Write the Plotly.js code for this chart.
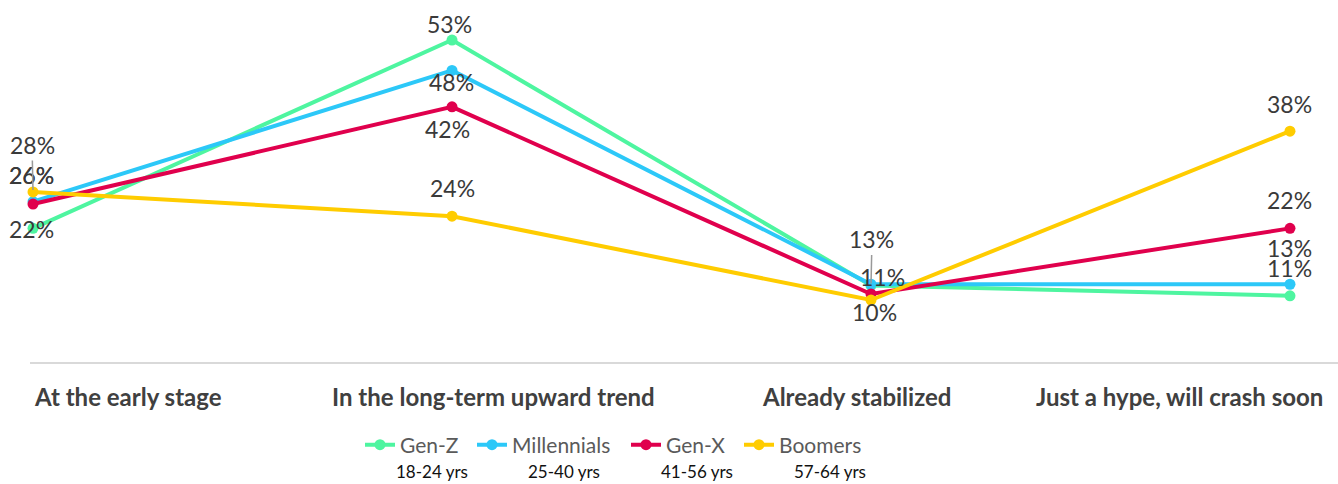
<!DOCTYPE html>
<html>
<head>
<meta charset="utf-8">
<script src="https://cdn.plot.ly/plotly-3.0.1.min.js"></script>
<style>html,body{margin:0;padding:0;background:#fff;}#chart{width:1338px;height:484px;}</style>
</head>
<body>
<div id="chart"></div>
<script>
// ---- data ----
const categories = ["At the early stage", "In the long-term upward trend", "Already stabilized", "Just a hype, will crash soon"];
const seriesNames = ["Gen-Z", "Millennials", "Gen-X", "Boomers"];
const ageRanges = ["18-24 yrs", "25-40 yrs", "41-56 yrs", "57-64 yrs"];
const genZ = [22, 53, 12.6, 10.9];
const millennials = [26.4, 48, 12.8, 12.8];
const genX = [26.0, 42, 11.2, 22];
const boomers = [28, 24, 10.2, 38];

// ---- styling ----
const colors = ["#4ef5a0", "#2cc8f8", "#e0004d", "#ffcc00"];
const FONT = "Lato, 'Source Sans Pro', sans-serif";
// label offsets in px (dx, dy; dy positive = up), leader flags, hidden (overlapped) labels
const labelDX = [[-2, -3, 1, 0], [-2, -1, 1, 0], [-2, -5, 12, 0], [-1, 0, 4, 0]];
const labelDY = [[-1, 16, 46, 28], [27, -12, 46, 36], [29, -22, 17, 28], [47, 28, -12, 27]];
const leader = [[false, false, true, false], [false, false, true, false], [false, false, false, false], [true, false, false, false]];
const hidden = [[false, false, false, false], [false, false, true, false], [false, false, false, false], [false, false, false, false]];

const allSeries = [genZ, millennials, genX, boomers];
const legendIds = ["legend", "legend2", "legend3", "legend4"];

const PLOT_L = 30, PLOT_W = 1308, PLOT_B = 362, PLOT_H = 342;
const px = x => (x - PLOT_L) / PLOT_W;
const py = y => (PLOT_B - y) / PLOT_H;

const traces = allSeries.map((vals, i) => ({
  type: "scatter",
  mode: "lines+markers",
  name: seriesNames[i],
  x: categories,
  y: vals,
  line: {color: colors[i], width: 4},
  marker: {color: colors[i], size: 11},
  cliponaxis: false,
  hoverinfo: "skip",
  legend: legendIds[i]
}));

const annotations = [];
allSeries.forEach((vals, i) => {
  vals.forEach((v, j) => {
    if (hidden[i][j]) return;
    const a = {
      x: categories[j], y: v, xref: "x", yref: "y",
      text: Math.round(v) + "%",
      font: {family: FONT, size: 23, color: "#3a3a3a"},
      xanchor: "center", yanchor: "middle"
    };
    if (leader[i][j]) {
      a.showarrow = true; a.arrowhead = 0; a.arrowwidth = 1.5; a.arrowcolor = "#999";
      a.ax = labelDX[i][j]; a.ay = -labelDY[i][j]; a.standoff = 2;
    } else {
      a.showarrow = false; a.xshift = labelDX[i][j]; a.yshift = labelDY[i][j];
    }
    annotations.push(a);
  });
});

// category labels
const catPos = [[32, "left"], [493, "center"], [856, "center"], [1325, "right"]];
categories.forEach((c, j) => {
  annotations.push({
    xref: "paper", yref: "paper", x: px(catPos[j][0]), y: py(396),
    xanchor: catPos[j][1], yanchor: "middle", showarrow: false,
    text: "<b>" + c + "</b>",
    font: {family: FONT, size: 24, color: "#404040"}
  });
});

// age range subtitles
const agePos = [432, 564, 697, 830];
ageRanges.forEach((t, i) => {
  annotations.push({
    xref: "paper", yref: "paper", x: px(agePos[i]), y: py(471),
    xanchor: "center", yanchor: "middle", showarrow: false,
    text: t, font: {family: FONT, size: 17, color: "#111"}
  });
});

const legendLeft = [360, 472, 626, 739];
const layout = {
  width: 1338, height: 484,
  margin: {l: PLOT_L, r: 0, t: 20, b: 122},
  paper_bgcolor: "#fff", plot_bgcolor: "#fff",
  showlegend: true,
  xaxis: {
    type: "category", range: [-0.0072, 3.1146],
    showticklabels: false, showgrid: false, zeroline: false,
    showline: true, linecolor: "#d9d9d9", linewidth: 2, ticks: ""
  },
  yaxis: {range: [0, 56.3], visible: false, showgrid: false, zeroline: false},
  annotations: annotations
};
legendIds.forEach((id, i) => {
  layout[id] = {
    orientation: "h", x: px(legendLeft[i]), xanchor: "left",
    y: py(445), yanchor: "middle",
    font: {family: FONT, size: 21, color: "#5a5a5a"},
    bgcolor: "rgba(0,0,0,0)"
  };
});

Plotly.newPlot("chart", traces, layout, {displayModeBar: false, staticPlot: true});
</script>
</body>
</html>
